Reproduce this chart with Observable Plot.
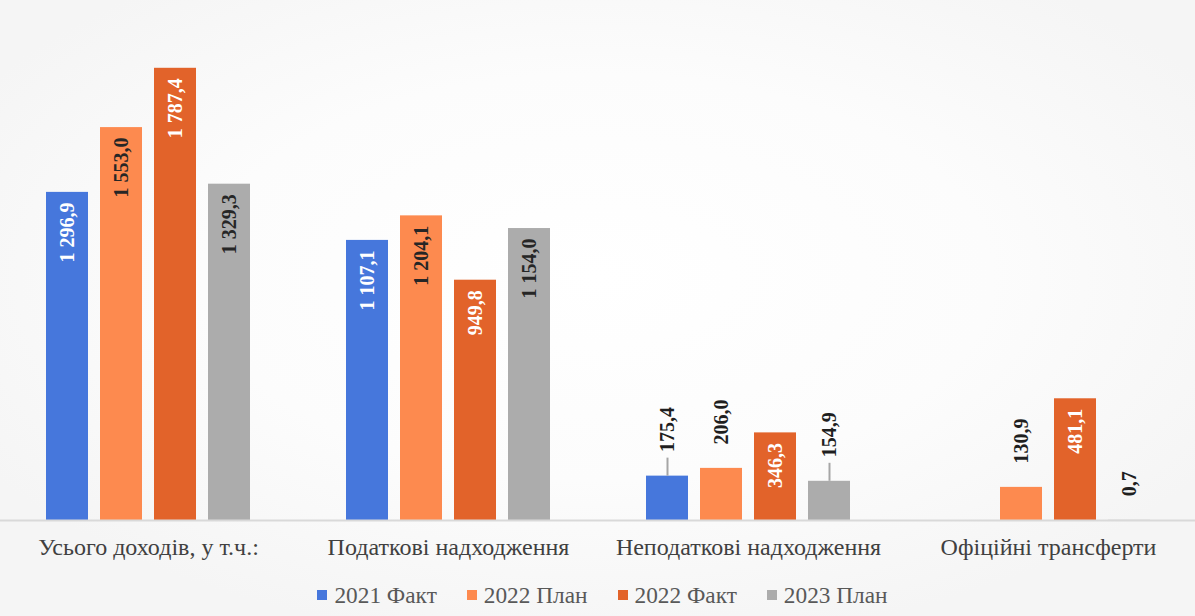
<!DOCTYPE html>
<html><head><meta charset="utf-8">
<script src="https://cdn.jsdelivr.net/npm/d3@7"></script>
<script src="https://cdn.jsdelivr.net/npm/@observablehq/plot@0.6"></script>
<style>
html,body{margin:0;padding:0}
body{width:1195px;height:616px;overflow:hidden;font-family:"Liberation Serif","Times New Roman","DejaVu Serif",serif;
background:radial-gradient(ellipse 60% 60% at 50% 45%, #ffffff 0%, #fcfcfc 55%, #f5f5f5 100%);}
#legend{display:flex;justify-content:center;gap:30px;font-size:23.3px;color:#595959;height:46px;align-items:center;padding-left:10px;padding-top:4px;box-sizing:border-box}
.item{display:flex;align-items:center;gap:7px}
.sw{width:10px;height:10px;display:inline-block}
svg text{font-family:"Liberation Serif","Times New Roman","DejaVu Serif",serif}
</style></head><body>
<div id="chart"></div>
<div id="legend"></div>
<script>
const categories = ["Усього доходів, у т.ч.:", "Податкові надходження", "Неподаткові надходження", "Офіційні трансферти"];
const series = ["2021 Факт", "2022 План", "2022 Факт", "2023 План"];
const fact2021 = [1296.9, 1107.1, 175.4, null];
const plan2022 = [1553.0, 1204.1, 206.0, 130.9];
const fact2022 = [1787.4, 949.8, 346.3, 481.1];
const plan2023 = [1329.3, 1154.0, 154.9, 0.7];
const colors = ["#4677dc", "#fd8a4f", "#e2632a", "#acacac"];
const leaders = [["Неподаткові надходження", "2021 Факт"], ["Неподаткові надходження", "2023 План"]];

const seriesValues = [fact2021, plan2022, fact2022, plan2023];
const data = [];
categories.forEach((c, i) => series.forEach((s, j) => {
  const v = seriesValues[j][i];
  if (v != null) data.push({category: c, series: s, value: v});
}));

const loc = d3.formatLocale({decimal: ",", thousands: " ", grouping: [3], currency: ["", ""]});
const fmt = loc.format(",.1f");
const insideThreshold = 300;
const inside = data.filter(d => d.value > insideThreshold);
const outside = data.filter(d => d.value <= insideThreshold);
const lightText = new Set(["2021 Факт", "2022 Факт"]);
const leaderData = data.filter(d => leaders.some(([c, s]) => c === d.category && s === d.series));

const chart = Plot.plot({
  width: 1195,
  height: 570,
  marginTop: 14,
  marginBottom: 50,
  marginLeft: -2,
  marginRight: -3,
  style: {background: "transparent", fontFamily: "'Liberation Serif', 'Times New Roman', 'DejaVu Serif', serif", fontSize: "24px", color: "#404040"},
  fx: {domain: categories, axis: "bottom", label: null, tickSize: 0, tickPadding: 17, paddingInner: 0, paddingOuter: 0},
  x: {domain: series, axis: null, paddingInner: 0.23, paddingOuter: 0.87},
  y: {domain: [0, 2000], axis: null},
  color: {domain: series, range: colors},
  marks: [
    Plot.barY(data, {fx: "category", x: "series", y: "value", fill: "series"}),
    Plot.ruleY([0], {stroke: "#d9d9d9", strokeWidth: 2}),
    Plot.ruleX(leaderData, {fx: "category", x: "series", y1: "value", y2: "value", insetTop: -18, stroke: "#a6a6a6", strokeWidth: 2}),
    Plot.text(inside, {fx: "category", x: "series", y: "value", text: d => fmt(d.value), rotate: -90,
      textAnchor: "end", dy: 10, fontSize: 20, fontWeight: "bold",
      fill: d => lightText.has(d.series) ? "#ffffff" : "#262626"}),
    Plot.text(outside, {fx: "category", x: "series", y: "value", text: d => fmt(d.value), rotate: -90,
      textAnchor: "start", dy: -24, fontSize: 20, fontWeight: "bold", fill: "#1f1f1f"})
  ]
});
document.getElementById("chart").appendChild(chart);

const legend = document.getElementById("legend");
series.forEach((s, i) => {
  const it = document.createElement("div");
  it.className = "item";
  it.innerHTML = `<span class="sw" style="background:${colors[i]}"></span><span>${s}</span>`;
  legend.appendChild(it);
});
</script>
</body></html>
